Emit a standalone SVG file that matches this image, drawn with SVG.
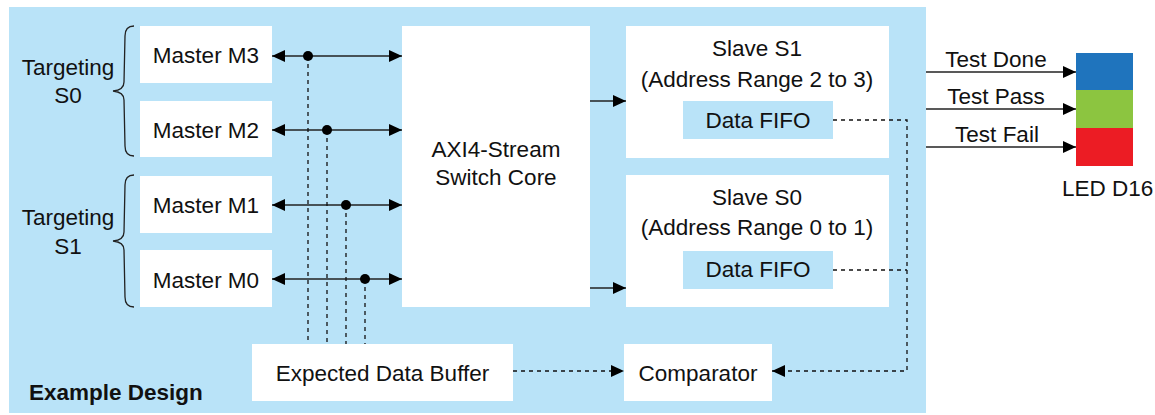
<svg xmlns="http://www.w3.org/2000/svg" width="1155" height="415" viewBox="0 0 1155 415">
<style>
text{font-family:"Liberation Sans",Arial,sans-serif;font-size:22.5px;fill:#111}
.c{text-anchor:middle}
.box{fill:#fff}
.fifo{fill:#b9e3f8}
.ln{stroke:#222;stroke-width:1.5;fill:none}
.dash{stroke:#111;stroke-width:1.3;fill:none;stroke-dasharray:4 4}
.brace{stroke:#222;stroke-width:1.3;fill:none}
</style>
<defs>
<marker id="ah" markerUnits="userSpaceOnUse" markerWidth="13" markerHeight="12" refX="13" refY="6" orient="auto-start-reverse">
<path d="M0,0 L13,6 L0,12 z" fill="#000"/>
</marker>
</defs>
<rect x="9" y="7" width="917" height="406" fill="#b9e3f8"/>
<text x="29" y="400" style="font-weight:bold">Example Design</text>

<g id="targetS0">
<path class="brace" d="M134,26 Q125,26 125,36 L124,82 Q124,90 113,91 Q124,92 124,100 L125,146 Q125,156 134,156"/>
<text class="c" x="68" y="75">Targeting</text>
<text class="c" x="68" y="103">S0</text>
</g>
<g id="targetS1">
<path class="brace" d="M134,175 Q125,175 125,185 L124,232 Q124,240 113,241 Q124,242 124,250 L125,297 Q125,307 134,307"/>
<text class="c" x="68" y="225">Targeting</text>
<text class="c" x="68" y="254">S1</text>
</g>

<g id="m3"><rect class="box" x="140" y="26" width="132" height="57"/><text class="c" x="206" y="63">Master M3</text></g>
<g id="m2"><rect class="box" x="140" y="101" width="132" height="56"/><text class="c" x="206" y="138">Master M2</text></g>
<g id="m1"><rect class="box" x="140" y="176" width="132" height="57"/><text class="c" x="206" y="213">Master M1</text></g>
<g id="m0"><rect class="box" x="140" y="250" width="132" height="57"/><text class="c" x="206" y="288">Master M0</text></g>

<g id="switch"><rect class="box" x="402" y="26" width="188" height="281"/>
<text class="c" x="496" y="157">AXI4-Stream</text><text class="c" x="496" y="185">Switch Core</text></g>

<g id="s1"><rect class="box" x="626" y="26" width="263" height="132"/>
<text class="c" x="757" y="56">Slave S1</text>
<text class="c" x="757" y="87">(Address Range 2 to 3)</text>
<rect class="fifo" x="683" y="101" width="150" height="38"/>
<text class="c" x="758" y="128">Data FIFO</text></g>

<g id="s0"><rect class="box" x="626" y="175" width="263" height="132"/>
<text class="c" x="757" y="205">Slave S0</text>
<text class="c" x="757" y="235">(Address Range 0 to 1)</text>
<rect class="fifo" x="683" y="251" width="150" height="38"/>
<text class="c" x="758" y="277">Data FIFO</text></g>

<g id="buffer"><rect class="box" x="252" y="344" width="261" height="57"/><text class="c" x="382.5" y="381">Expected Data Buffer</text></g>
<g id="comparator"><rect class="box" x="624" y="344" width="148" height="57"/><text class="c" x="698" y="381">Comparator</text></g>

<g id="led">
<rect x="1076" y="53" width="57" height="38" fill="#1f74bd"/>
<rect x="1076" y="90" width="57" height="38" fill="#8cc540"/>
<rect x="1076" y="128" width="57" height="38" fill="#ec1c24"/>
<text x="1062" y="196">LED D16</text>
</g>

<g id="connectors">
<line class="ln" x1="272" y1="56" x2="402" y2="56" marker-start="url(#ah)" marker-end="url(#ah)"/>
<line class="ln" x1="272" y1="130" x2="402" y2="130" marker-start="url(#ah)" marker-end="url(#ah)"/>
<line class="ln" x1="272" y1="205" x2="402" y2="205" marker-start="url(#ah)" marker-end="url(#ah)"/>
<line class="ln" x1="272" y1="279" x2="402" y2="279" marker-start="url(#ah)" marker-end="url(#ah)"/>
<line class="dash" x1="308" y1="56" x2="308" y2="344"/>
<line class="dash" x1="327" y1="130" x2="327" y2="344"/>
<line class="dash" x1="346" y1="205" x2="346" y2="344"/>
<line class="dash" x1="365" y1="279" x2="365" y2="344"/>
<circle cx="308" cy="56" r="5" fill="#000"/>
<circle cx="327" cy="130" r="5" fill="#000"/>
<circle cx="346" cy="205" r="5" fill="#000"/>
<circle cx="365" cy="279" r="5" fill="#000"/>
<line class="ln" x1="590" y1="101" x2="626" y2="101" marker-end="url(#ah)"/>
<line class="ln" x1="590" y1="288" x2="626" y2="288" marker-end="url(#ah)"/>
<polyline class="dash" points="833,120 907,120 907,371 772,371" marker-end="url(#ah)"/>
<line class="dash" x1="833" y1="270" x2="907" y2="270"/>
<line class="dash" x1="513" y1="371" x2="624" y2="371" marker-end="url(#ah)"/>
<line class="ln" x1="926" y1="72" x2="1076" y2="72" marker-end="url(#ah)"/>
<line class="ln" x1="926" y1="109" x2="1076" y2="109" marker-end="url(#ah)"/>
<line class="ln" x1="926" y1="147" x2="1076" y2="147" marker-end="url(#ah)"/>
<text class="c" x="996" y="67">Test Done</text>
<text class="c" x="996" y="104">Test Pass</text>
<text class="c" x="997" y="142">Test Fail</text>
</g>
</svg>
